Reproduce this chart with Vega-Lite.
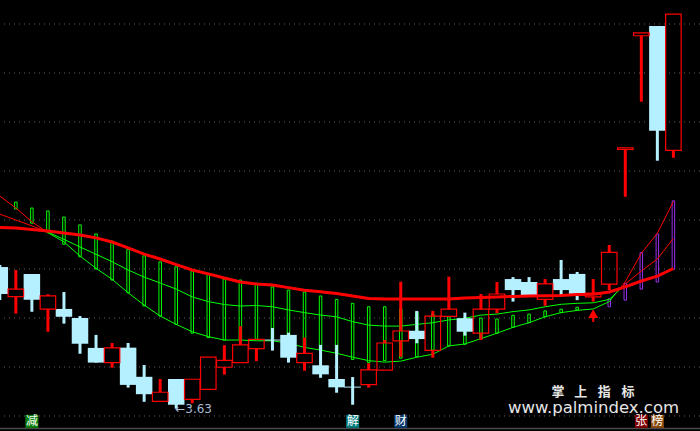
{
"$schema":"https://vega.github.io/schema/vega-lite/v6.json",
"width":700,"height":431,"padding":0,"autosize":{"type":"none"},
"background":"#000000",
"config":{"view":{"stroke":null}},
"datasets":{
"candles":[
{"i":-1,"o":4.208,"c":4.098,"h":4.216,"l":4.073,"ma":4.369},
{"i":0,"o":4.087,"c":4.118,"h":4.196,"l":4.018,"ma":4.367},
{"i":1,"o":4.180,"c":4.075,"h":4.180,"l":4.026,"ma":4.361},
{"i":2,"o":4.036,"c":4.090,"h":4.097,"l":3.944,"ma":4.355},
{"i":3,"o":4.037,"c":4.005,"h":4.106,"l":3.977,"ma":4.347},
{"i":4,"o":4.000,"c":3.895,"h":4.008,"l":3.854,"ma":4.339},
{"i":5,"o":3.878,"c":3.818,"h":3.931,"l":3.818,"ma":4.327},
{"i":6,"o":3.818,"c":3.878,"h":3.898,"l":3.797,"ma":4.310},
{"i":7,"o":3.879,"c":3.727,"h":3.898,"l":3.716,"ma":4.286},
{"i":8,"o":3.760,"c":3.689,"h":3.808,"l":3.658,"ma":4.261},
{"i":9,"o":3.660,"c":3.697,"h":3.751,"l":3.660,"ma":4.241},
{"i":10,"o":3.751,"c":3.646,"h":3.751,"l":3.630,"ma":4.218},
{"i":11,"o":3.668,"c":3.750,"h":3.750,"l":3.652,"ma":4.196},
{"i":12,"o":3.709,"c":3.840,"h":3.840,"l":3.709,"ma":4.180},
{"i":13,"o":3.799,"c":3.827,"h":3.889,"l":3.769,"ma":4.163},
{"i":14,"o":3.818,"c":3.890,"h":3.967,"l":3.818,"ma":4.147},
{"i":15,"o":3.875,"c":3.913,"h":3.913,"l":3.824,"ma":4.139},
{"i":16,"o":3.912,"c":3.908,"h":3.959,"l":3.867,"ma":4.135},
{"i":17,"o":3.931,"c":3.838,"h":3.940,"l":3.818,"ma":4.124},
{"i":18,"o":3.818,"c":3.856,"h":3.920,"l":3.785,"ma":4.113},
{"i":19,"o":3.807,"c":3.770,"h":3.890,"l":3.756,"ma":4.107},
{"i":20,"o":3.751,"c":3.717,"h":3.890,"l":3.695,"ma":4.100},
{"i":21,"o":3.720,"c":3.716,"h":3.759,"l":3.646,"ma":4.090},
{"i":22,"o":3.728,"c":3.788,"h":3.815,"l":3.716,"ma":4.080},
{"i":23,"o":3.787,"c":3.898,"h":3.910,"l":3.787,"ma":4.078},
{"i":24,"o":3.907,"c":3.947,"h":4.148,"l":3.842,"ma":4.078},
{"i":25,"o":3.948,"c":3.914,"h":4.029,"l":3.897,"ma":4.078},
{"i":26,"o":3.868,"c":4.008,"h":4.029,"l":3.838,"ma":4.078},
{"i":27,"o":4.007,"c":4.036,"h":4.169,"l":4.007,"ma":4.078},
{"i":28,"o":3.999,"c":3.944,"h":4.022,"l":3.928,"ma":4.082},
{"i":29,"o":3.938,"c":4.036,"h":4.098,"l":3.910,"ma":4.084},
{"i":30,"o":4.036,"c":4.098,"h":4.147,"l":4.020,"ma":4.086},
{"i":31,"o":4.159,"c":4.114,"h":4.167,"l":4.067,"ma":4.088},
{"i":32,"o":4.147,"c":4.094,"h":4.167,"l":4.094,"ma":4.090},
{"i":33,"o":4.076,"c":4.139,"h":4.159,"l":4.050,"ma":4.091},
{"i":34,"o":4.159,"c":4.114,"h":4.237,"l":4.091,"ma":4.092},
{"i":35,"o":4.180,"c":4.094,"h":4.188,"l":4.073,"ma":4.096},
{"i":36,"o":4.086,"c":4.102,"h":4.159,"l":4.067,"ma":4.097},
{"i":37,"o":4.138,"c":4.268,"h":4.298,"l":4.114,"ma":4.106},
{"i":38,"o":4.688,"c":4.695,"h":4.695,"l":4.495,"ma":4.127},
{"i":39,"o":5.152,"c":5.164,"h":5.164,"l":4.883,"ma":4.151},
{"i":40,"o":5.192,"c":4.764,"h":5.192,"l":4.642,"ma":4.171},
{"i":41,"o":4.684,"c":5.240,"h":5.240,"l":4.654,"ma":4.202}
],
"lines":[
{"seg":"A1","i":-1,"p":4.498},{"seg":"A1","i":0,"p":4.449},{"seg":"A1","i":1,"p":4.393},{"seg":"A1","i":2,"p":4.348},
{"seg":"A2","i":2,"p":4.348},{"seg":"A2","i":3,"p":4.311},{"seg":"A2","i":4,"p":4.253},{"seg":"A2","i":5,"p":4.203},{"seg":"A2","i":6,"p":4.158},{"seg":"A2","i":7,"p":4.103},{"seg":"A2","i":8,"p":4.053},{"seg":"A2","i":9,"p":4.008},{"seg":"A2","i":10,"p":3.974},{"seg":"A2","i":11,"p":3.944},{"seg":"A2","i":12,"p":3.924},{"seg":"A2","i":13,"p":3.910},{"seg":"A2","i":14,"p":3.910},{"seg":"A2","i":15,"p":3.907},{"seg":"A2","i":16,"p":3.907},{"seg":"A2","i":17,"p":3.897},{"seg":"A2","i":18,"p":3.880},{"seg":"A2","i":19,"p":3.869},{"seg":"A2","i":20,"p":3.856},{"seg":"A2","i":21,"p":3.840},{"seg":"A2","i":22,"p":3.826},{"seg":"A2","i":23,"p":3.820},{"seg":"A2","i":24,"p":3.824},{"seg":"A2","i":25,"p":3.840},{"seg":"A2","i":26,"p":3.852},{"seg":"A2","i":27,"p":3.886},{"seg":"A2","i":28,"p":3.894},{"seg":"A2","i":29,"p":3.916},{"seg":"A2","i":30,"p":3.938},{"seg":"A2","i":31,"p":3.962},{"seg":"A2","i":32,"p":3.981},{"seg":"A2","i":33,"p":4.005},{"seg":"A2","i":34,"p":4.022},{"seg":"A2","i":35,"p":4.031},{"seg":"A2","i":36,"p":4.037},{"seg":"A2","i":37,"p":4.067},{"seg":"A2","i":37.45,"p":4.105},
{"seg":"A3","i":37.45,"p":4.105},{"seg":"A3","i":38,"p":4.148},{"seg":"A3","i":39,"p":4.264},{"seg":"A3","i":40,"p":4.346},{"seg":"A3","i":41,"p":4.475},
{"seg":"B1","i":-1,"p":4.424},{"seg":"B1","i":0,"p":4.400},{"seg":"B1","i":1,"p":4.376},{"seg":"B1","i":2,"p":4.351},
{"seg":"B2","i":2,"p":4.351},{"seg":"B2","i":3,"p":4.321},{"seg":"B2","i":4,"p":4.290},{"seg":"B2","i":5,"p":4.260},{"seg":"B2","i":6,"p":4.230},{"seg":"B2","i":7,"p":4.196},{"seg":"B2","i":8,"p":4.167},{"seg":"B2","i":9,"p":4.143},{"seg":"B2","i":10,"p":4.118},{"seg":"B2","i":11,"p":4.086},{"seg":"B2","i":12,"p":4.067},{"seg":"B2","i":13,"p":4.055},{"seg":"B2","i":14,"p":4.049},{"seg":"B2","i":15,"p":4.051},{"seg":"B2","i":16,"p":4.046},{"seg":"B2","i":17,"p":4.033},{"seg":"B2","i":18,"p":4.022},{"seg":"B2","i":19,"p":4.012},{"seg":"B2","i":20,"p":4.005},{"seg":"B2","i":21,"p":3.985},{"seg":"B2","i":22,"p":3.971},{"seg":"B2","i":23,"p":3.967},{"seg":"B2","i":24,"p":3.967},{"seg":"B2","i":25,"p":3.974},{"seg":"B2","i":26,"p":3.981},{"seg":"B2","i":27,"p":3.992},{"seg":"B2","i":28,"p":3.999},{"seg":"B2","i":29,"p":4.012},{"seg":"B2","i":30,"p":4.016},{"seg":"B2","i":31,"p":4.026},{"seg":"B2","i":32,"p":4.033},{"seg":"B2","i":33,"p":4.046},{"seg":"B2","i":34,"p":4.056},{"seg":"B2","i":35,"p":4.060},{"seg":"B2","i":36,"p":4.062},{"seg":"B2","i":37,"p":4.076},{"seg":"B2","i":37.6,"p":4.112},
{"seg":"B3","i":37.6,"p":4.112},{"seg":"B3","i":38,"p":4.139},{"seg":"B3","i":39,"p":4.192},{"seg":"B3","i":40,"p":4.241},{"seg":"B3","i":41,"p":4.325}
],
"bars":[
{"i":0,"t":4.473,"b":4.445,"col":"g"},{"i":1,"t":4.449,"b":4.387,"col":"g"},{"i":2,"t":4.437,"b":4.348,"col":"g"},{"i":3,"t":4.412,"b":4.301,"col":"g"},{"i":4,"t":4.380,"b":4.250,"col":"g"},{"i":5,"t":4.343,"b":4.200,"col":"g"},{"i":6,"t":4.314,"b":4.155,"col":"g"},{"i":7,"t":4.280,"b":4.103,"col":"g"},{"i":8,"t":4.254,"b":4.049,"col":"g"},{"i":9,"t":4.229,"b":4.008,"col":"g"},{"i":10,"t":4.209,"b":3.974,"col":"g"},{"i":11,"t":4.192,"b":3.938,"col":"g"},{"i":12,"t":4.177,"b":3.920,"col":"g"},{"i":13,"t":4.159,"b":3.910,"col":"g"},{"i":14,"t":4.155,"b":3.910,"col":"g"},{"i":15,"t":4.142,"b":3.913,"col":"g"},{"i":16,"t":4.127,"b":3.907,"col":"g"},{"i":17,"t":4.114,"b":3.898,"col":"g"},{"i":18,"t":4.106,"b":3.882,"col":"g"},{"i":19,"t":4.090,"b":3.869,"col":"g"},{"i":20,"t":4.076,"b":3.856,"col":"g"},{"i":21,"t":4.060,"b":3.831,"col":"g"},{"i":22,"t":4.046,"b":3.818,"col":"g"},{"i":23,"t":4.046,"b":3.826,"col":"g"},{"i":24,"t":4.037,"b":3.836,"col":"g"},{"i":25,"t":4.024,"b":3.842,"col":"g"},{"i":26,"t":4.016,"b":3.869,"col":"g"},{"i":27,"t":4.005,"b":3.886,"col":"g"},{"i":28,"t":4.000,"b":3.893,"col":"g"},{"i":29,"t":4.000,"b":3.916,"col":"g"},{"i":30,"t":3.996,"b":3.938,"col":"g"},{"i":31,"t":4.011,"b":3.962,"col":"g"},{"i":32,"t":4.016,"b":3.981,"col":"g"},{"i":33,"t":4.029,"b":4.005,"col":"g"},{"i":34,"t":4.036,"b":4.022,"col":"g"},{"i":35,"t":4.044,"b":4.033,"col":"g"},
{"i":37,"t":4.078,"b":4.046,"col":"p"},{"i":38,"t":4.142,"b":4.073,"col":"p"},{"i":39,"t":4.267,"b":4.118,"col":"p"},{"i":40,"t":4.343,"b":4.147,"col":"p"},{"i":41,"t":4.478,"b":4.199,"col":"p"}
],
"hlines":[{"p":3.6,"k":"grid"},{"p":3.8,"k":"grid"},{"p":4.0,"k":"grid"},{"p":4.2,"k":"grid"},{"p":4.4,"k":"grid"},{"p":4.6,"k":"grid"},{"p":4.8,"k":"grid"},{"p":5.0,"k":"grid"},{"p":5.2,"k":"grid"},{"p":3.549,"k":"base"}],
"arrow":[{"i":36,"p":4.018,"p1":4.008,"p2":3.984}],
"low":[{"i":10,"p":3.629,"txt":"←3.63"}],
"tags":[{"i":1,"p":3.578,"t":"减"},{"i":21,"p":3.578,"t":"解"},{"i":24,"p":3.578,"t":"财"},{"i":39,"p":3.578,"t":"张"},{"i":40,"p":3.578,"t":"榜"}],
"wm":[{"i":33.80,"p":3.700,"t":"掌"},{"i":35.22,"p":3.700,"t":"上"},{"i":36.69,"p":3.700,"t":"指"},{"i":38.17,"p":3.700,"t":"标"}],
"url":[{"i":36.02,"p":3.613,"t":"www.palmindex.com"}]
},
"layer":[
{"data":{"name":"hlines"},"transform":[{"filter":"datum.k == 'grid'"}],
 "mark":{"type":"rule","stroke":"#5e5e5e","strokeDash":[1,4],"strokeWidth":1},
 "encoding":{"y":{"field":"p","type":"quantitative","scale":{"domain":[3.5388,5.298],"nice":false,"zero":false},"axis":null}}},
{"data":{"name":"hlines"},"transform":[{"filter":"datum.k == 'base'"}],
 "mark":{"type":"rule","stroke":"#4a4a4a","strokeWidth":1.5},
 "encoding":{"y":{"field":"p","type":"quantitative","scale":{"domain":[3.5388,5.298],"nice":false,"zero":false},"axis":null}}},
{"data":{"name":"bars"},
 "mark":{"type":"bar","width":2.5,"filled":false,"strokeWidth":1,"clip":true},
 "encoding":{"x":{"field":"i","type":"quantitative","scale":{"domain":[-0.676,42.347],"nice":false,"zero":false},"axis":null},
  "y":{"field":"t","type":"quantitative","scale":{"domain":[3.5388,5.298],"nice":false,"zero":false},"axis":null},
  "y2":{"field":"b"},
  "stroke":{"field":"col","type":"nominal","scale":{"domain":["g","p"],"range":["#00ff00","#9a30f0"]},"legend":null}}},
{"data":{"name":"lines"},
 "mark":{"type":"line","strokeWidth":1,"clip":true},
 "encoding":{"x":{"field":"i","type":"quantitative","scale":{"domain":[-0.676,42.347],"nice":false,"zero":false},"axis":null},
  "y":{"field":"p","type":"quantitative","scale":{"domain":[3.5388,5.298],"nice":false,"zero":false},"axis":null},
  "color":{"field":"seg","type":"nominal","scale":{"domain":["A1","A2","A3","B1","B2","B3"],"range":["#ff0000","#00ff00","#ff0000","#ff0000","#00ff00","#ff0000"]},"legend":null}}},
{"data":{"name":"candles"},"transform":[{"filter":"datum.c <= datum.o"}],
 "mark":{"type":"bar","width":3,"color":"#b4f0ff","clip":true},
 "encoding":{"x":{"field":"i","type":"quantitative","scale":{"domain":[-0.676,42.347],"nice":false,"zero":false},"axis":null},
  "y":{"field":"h","type":"quantitative","scale":{"domain":[3.5388,5.298],"nice":false,"zero":false},"axis":null},
  "y2":{"field":"l"}}},
{"data":{"name":"candles"},"transform":[{"filter":"datum.c <= datum.o"}],
 "mark":{"type":"bar","width":16.5,"color":"#b4f0ff","clip":true},
 "encoding":{"x":{"field":"i","type":"quantitative","scale":{"domain":[-0.676,42.347],"nice":false,"zero":false},"axis":null},
  "y":{"field":"o","type":"quantitative","scale":{"domain":[3.5388,5.298],"nice":false,"zero":false},"axis":null},
  "y2":{"field":"c"}}},
{"data":{"name":"candles"},"transform":[{"filter":"datum.c > datum.o"}],
 "mark":{"type":"bar","width":3,"color":"#ff0000","clip":true},
 "encoding":{"x":{"field":"i","type":"quantitative","scale":{"domain":[-0.676,42.347],"nice":false,"zero":false},"axis":null},
  "y":{"field":"h","type":"quantitative","scale":{"domain":[3.5388,5.298],"nice":false,"zero":false},"axis":null},
  "y2":{"field":"c"}}},
{"data":{"name":"candles"},"transform":[{"filter":"datum.c > datum.o"}],
 "mark":{"type":"bar","width":3,"color":"#ff0000","clip":true},
 "encoding":{"x":{"field":"i","type":"quantitative","scale":{"domain":[-0.676,42.347],"nice":false,"zero":false},"axis":null},
  "y":{"field":"o","type":"quantitative","scale":{"domain":[3.5388,5.298],"nice":false,"zero":false},"axis":null},
  "y2":{"field":"l"}}},
{"data":{"name":"candles"},"transform":[{"filter":"datum.c > datum.o"}],
 "mark":{"type":"bar","width":15.5,"filled":false,"stroke":"#ff0000","strokeWidth":1.2,"clip":true},
 "encoding":{"x":{"field":"i","type":"quantitative","scale":{"domain":[-0.676,42.347],"nice":false,"zero":false},"axis":null},
  "y":{"field":"o","type":"quantitative","scale":{"domain":[3.5388,5.298],"nice":false,"zero":false},"axis":null},
  "y2":{"field":"c"}}},
{"data":{"name":"candles"},
 "mark":{"type":"line","strokeWidth":3,"color":"#ff0000","clip":true},
 "encoding":{"x":{"field":"i","type":"quantitative","scale":{"domain":[-0.676,42.347],"nice":false,"zero":false},"axis":null},
  "y":{"field":"ma","type":"quantitative","scale":{"domain":[3.5388,5.298],"nice":false,"zero":false},"axis":null}}},
{"data":{"name":"arrow"},
 "mark":{"type":"rule","strokeWidth":2,"color":"#ff0000"},
 "encoding":{"x":{"field":"i","type":"quantitative","scale":{"domain":[-0.676,42.347],"nice":false,"zero":false},"axis":null},
  "y":{"field":"p1","type":"quantitative","scale":{"domain":[3.5388,5.298],"nice":false,"zero":false},"axis":null},
  "y2":{"field":"p2"}}},
{"data":{"name":"arrow"},
 "mark":{"type":"point","shape":"triangle-up","size":100,"filled":true,"color":"#ff0000","opacity":1},
 "encoding":{"x":{"field":"i","type":"quantitative","scale":{"domain":[-0.676,42.347],"nice":false,"zero":false},"axis":null},
  "y":{"field":"p","type":"quantitative","scale":{"domain":[3.5388,5.298],"nice":false,"zero":false},"axis":null}}},
{"data":{"name":"low"},
 "mark":{"type":"text","align":"left","baseline":"middle","dx":-1,"fontSize":12,"font":"DejaVu Sans","color":"#a9bcd8"},
 "encoding":{"x":{"field":"i","type":"quantitative","scale":{"domain":[-0.676,42.347],"nice":false,"zero":false},"axis":null},
  "y":{"field":"p","type":"quantitative","scale":{"domain":[3.5388,5.298],"nice":false,"zero":false},"axis":null},
  "text":{"field":"txt"}}},
{"data":{"name":"tags"},
 "mark":{"type":"point","shape":"square","size":169,"filled":true,"opacity":1,"strokeWidth":0},
 "encoding":{"x":{"field":"i","type":"quantitative","scale":{"domain":[-0.676,42.347],"nice":false,"zero":false},"axis":null},
  "y":{"field":"p","type":"quantitative","scale":{"domain":[3.5388,5.298],"nice":false,"zero":false},"axis":null},
  "fill":{"field":"t","type":"nominal","scale":{"domain":["减","解","财","张","榜"],"range":["#0a800a","#007b7b","#0b3a6c","#800000","#8a4a0c"]},"legend":null}}},
{"data":{"name":"tags"},
 "mark":{"type":"text","align":"center","baseline":"middle","fontSize":12,"font":"Noto Sans CJK SC","color":"#ffffff"},
 "encoding":{"x":{"field":"i","type":"quantitative","scale":{"domain":[-0.676,42.347],"nice":false,"zero":false},"axis":null},
  "y":{"field":"p","type":"quantitative","scale":{"domain":[3.5388,5.298],"nice":false,"zero":false},"axis":null},
  "text":{"field":"t"}}},
{"data":{"name":"wm"},
 "mark":{"type":"text","align":"center","baseline":"middle","fontSize":13,"fontWeight":"bold","font":"Noto Sans CJK SC","color":"#e6e6e6"},
 "encoding":{"x":{"field":"i","type":"quantitative","scale":{"domain":[-0.676,42.347],"nice":false,"zero":false},"axis":null},
  "y":{"field":"p","type":"quantitative","scale":{"domain":[3.5388,5.298],"nice":false,"zero":false},"axis":null},
  "text":{"field":"t"}}},
{"data":{"name":"url"},
 "mark":{"type":"text","align":"center","baseline":"alphabetic","fontSize":16.5,"font":"DejaVu Sans","color":"#e6e6e6"},
 "encoding":{"x":{"field":"i","type":"quantitative","scale":{"domain":[-0.676,42.347],"nice":false,"zero":false},"axis":null},
  "y":{"field":"p","type":"quantitative","scale":{"domain":[3.5388,5.298],"nice":false,"zero":false},"axis":null},
  "text":{"field":"t"}}}
]
}
